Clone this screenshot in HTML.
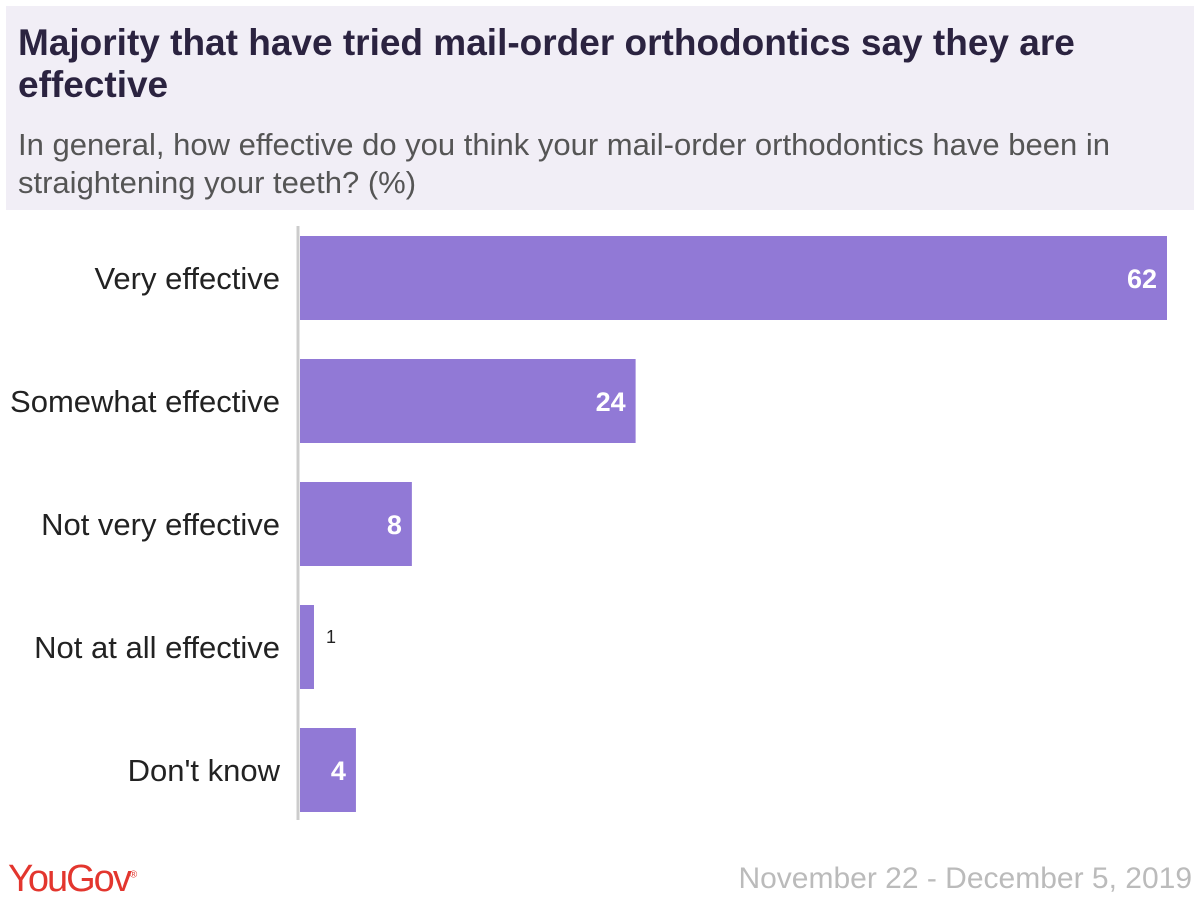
<!DOCTYPE html>
<html><head><meta charset="utf-8"><style>
body{margin:0;width:1200px;height:900px;background:#fff;font-family:"Liberation Sans",sans-serif;overflow:hidden;position:relative}
#hdr{position:absolute;left:6px;top:6px;width:1188px;height:204px;background:#f1eef6}
#title{position:absolute;left:12px;top:16px;font-size:37px;font-weight:bold;color:#2b2340;line-height:42px;width:1120px}
#sub{position:absolute;left:12px;top:120px;font-size:31px;color:#555;line-height:38px;width:1140px}
#logo{position:absolute;left:8px;top:858px;font-size:38px;color:#e3362e;letter-spacing:-2px}
#date{position:absolute;right:8px;top:862px;font-size:30px;color:#bbb}
</style></head><body>
<div id="hdr">
<div id="title">Majority that have tried mail-order orthodontics say they are effective</div>
<div id="sub">In general, how effective do you think your mail-order orthodontics have been in straightening your teeth? (%)</div>
</div>
<svg id="chart" width="1200" height="900" style="position:absolute;left:0;top:0"></svg>
<div id="logo">YouGov<sup style="font-size:10px">®</sup></div>
<div id="date">November 22 - December 5, 2019</div>
<script>
const categories=["Very effective","Somewhat effective","Not very effective","Not at all effective","Don't know"];
const values=[62,24,8,1,4];
const svg=document.getElementById('chart');
const NS='http://www.w3.org/2000/svg';
const x0=300, scale=867/62, y0=236, step=123, bh=84;
const xs=v=>v*scale, ys=i=>y0+i*step;
const ax=document.createElementNS(NS,'line');
ax.setAttribute('x1',298);ax.setAttribute('x2',298);ax.setAttribute('y1',226);ax.setAttribute('y2',820);
ax.setAttribute('stroke','#ccc');ax.setAttribute('stroke-width',3);


svg.appendChild(ax);
categories.forEach((c,i)=>{
 const y=ys(i),w=xs(values[i]);
 const r=document.createElementNS(NS,'rect');
 r.setAttribute('x',x0);r.setAttribute('y',y);r.setAttribute('width',w);r.setAttribute('height',bh);r.setAttribute('fill','#9179d6');
 
 
 svg.appendChild(r);
 const t=document.createElementNS(NS,'text');
 t.setAttribute('x',280);t.setAttribute('y',y+bh/2+11);t.setAttribute('text-anchor','end');
 t.setAttribute('font-size','31');t.setAttribute('fill','#222');t.textContent=c;
 
 
 svg.appendChild(t);
 const v=document.createElementNS(NS,'text');
 if(w>40){v.setAttribute('x',x0+w-10);v.setAttribute('text-anchor','end');v.setAttribute('fill','#fff');v.setAttribute('font-weight','bold');v.setAttribute('font-size','27');v.setAttribute('y',y+bh/2+10);}
 else{v.setAttribute('x',x0+w+12);v.setAttribute('fill','#222');v.setAttribute('font-size','18');v.setAttribute('y',y+bh/2-4);}
 v.textContent=values[i];
 
 
 svg.appendChild(v);
});
</script>
</body></html>
